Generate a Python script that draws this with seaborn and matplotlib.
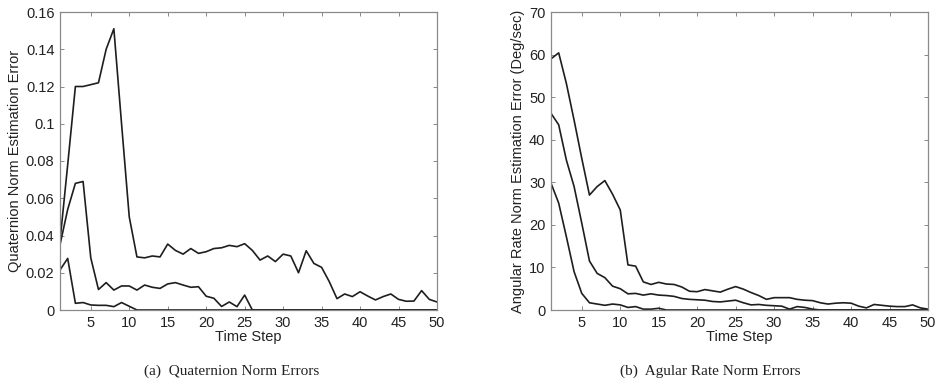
import numpy as np
import pandas as pd
import matplotlib
matplotlib.use("Agg")
import matplotlib.pyplot as plt
from matplotlib.ticker import FormatStrFormatter
import seaborn as sns

steps = list(range(1, 51))

# Quaternion norm estimation errors (panel a)
quat_high = [0.037, 0.078, 0.120, 0.120, 0.121, 0.122, 0.140, 0.151, 0.100, 0.050,
             0.0285, 0.028, 0.029, 0.0285, 0.0354, 0.032, 0.030, 0.033, 0.0304, 0.0313,
             0.033, 0.0334, 0.0347, 0.034, 0.0356, 0.032, 0.0268, 0.029, 0.026, 0.030,
             0.029, 0.020, 0.0318, 0.025, 0.0229, 0.0152, 0.0061, 0.0086, 0.0072, 0.0098,
             0.0075, 0.0054, 0.0072, 0.0086, 0.0057, 0.0047, 0.0048, 0.0104, 0.0057, 0.0043]
quat_mid = [0.035, 0.054, 0.068, 0.069, 0.028, 0.011, 0.0147, 0.0107, 0.0129, 0.0129,
            0.0107, 0.0134, 0.0122, 0.0116, 0.014, 0.0147, 0.0134, 0.0122, 0.0125, 0.0074,
            0.0063, 0.0019, 0.0043, 0.0018, 0.008, 0.0, 0.0, 0.0, 0.0, 0.0,
            0.0, 0.0, 0.0, 0.0, 0.0, 0.0, 0.0, 0.0, 0.0, 0.0,
            0.0, 0.0, 0.0, 0.0, 0.0, 0.0, 0.0, 0.0, 0.0, 0.0]
quat_low = [0.0215, 0.0277, 0.0036, 0.004, 0.0027, 0.0025, 0.0025, 0.0018, 0.004, 0.002,
            0.0, 0.0, 0.0, 0.0, 0.0, 0.0, 0.0, 0.0, 0.0, 0.0,
            0.0, 0.0, 0.0, 0.0, 0.0, 0.0, 0.0, 0.0, 0.0, 0.0,
            0.0, 0.0, 0.0, 0.0, 0.0, 0.0, 0.0, 0.0, 0.0, 0.0,
            0.0, 0.0, 0.0, 0.0, 0.0, 0.0, 0.0, 0.0, 0.0, 0.0]

# Angular rate norm estimation errors, deg/sec (panel b)
rate_high = [59.0, 60.4, 53.2, 44.6, 35.6, 27.0, 29.0, 30.4, 27.2, 23.5,
             10.6, 10.3, 6.6, 6.0, 6.5, 6.1, 6.0, 5.4, 4.4, 4.3,
             4.8, 4.5, 4.2, 4.9, 5.5, 4.9, 4.1, 3.4, 2.5, 2.9,
             2.9, 2.9, 2.5, 2.3, 2.2, 1.7, 1.4, 1.6, 1.7, 1.6,
             0.9, 0.5, 1.3, 1.1, 0.9, 0.8, 0.8, 1.2, 0.5, 0.2]
rate_mid = [46.2, 43.5, 35.2, 29.0, 20.4, 11.5, 8.6, 7.6, 5.6, 5.0,
            3.8, 3.9, 3.5, 3.8, 3.5, 3.4, 3.2, 2.7, 2.5, 2.4,
            2.3, 2.0, 1.9, 2.1, 2.3, 1.7, 1.2, 1.3, 1.1, 1.0,
            0.9, 0.2, 0.8, 0.6, 0.2, 0.0, 0.0, 0.0, 0.0, 0.0,
            0.0, 0.0, 0.0, 0.0, 0.0, 0.0, 0.0, 0.0, 0.0, 0.0]
rate_low = [29.8, 25.1, 17.2, 9.0, 3.9, 1.7, 1.4, 1.1, 1.4, 1.2,
            0.6, 0.8, 0.2, 0.2, 0.4, 0.0, 0.0, 0.0, 0.0, 0.0,
            0.0, 0.0, 0.0, 0.0, 0.0, 0.0, 0.0, 0.0, 0.0, 0.0,
            0.0, 0.0, 0.0, 0.0, 0.0, 0.0, 0.0, 0.0, 0.0, 0.0,
            0.0, 0.0, 0.0, 0.0, 0.0, 0.0, 0.0, 0.0, 0.0, 0.0]

x_ticks = [5, 10, 15, 20, 25, 30, 35, 40, 45, 50]
quat_ticks = [0, 0.02, 0.04, 0.06, 0.08, 0.1, 0.12, 0.14, 0.16]
rate_ticks = [0, 10, 20, 30, 40, 50, 60, 70]

sns.set_style("ticks")
plt.rcParams['font.family'] = ['Liberation Sans', 'DejaVu Sans']

fig = plt.figure(figsize=(9.38, 3.87), dpi=100)
axL = fig.add_axes([60/938, 77/387, 377/938, 298/387])
axR = fig.add_axes([551/938, 77/387, 377/938, 298/387])

line_kw = dict(color='#1e1e1e', linewidth=1.2)

def build(series_list):
    frames = []
    for i, s in enumerate(series_list):
        frames.append(pd.DataFrame({'step': steps, 'value': s, 'run': i}))
    return pd.concat(frames, ignore_index=True)

dfL = build([quat_high, quat_mid, quat_low])
dfR = build([rate_high, rate_mid, rate_low])

for ax, df in ((axL, dfL), (axR, dfR)):
    for run, g in df.groupby('run'):
        sns.lineplot(data=g, x='step', y='value', ax=ax, **line_kw)

for ax in (axL, axR):
    ax.set_xlim(1, 50)
    ax.set_xticks(x_ticks)
    ax.tick_params(direction='in', top=True, right=True, length=3,
                   width=0.7, colors='#888888', labelcolor='#222222', labelsize=10.5, pad=4)
    for sp in ax.spines.values():
        sp.set_color('#8a8a8a')
        sp.set_linewidth(0.9)
        sp.set_visible(True)
    ax.set_xlabel('Time Step', fontsize=10.5, color='#222222', labelpad=0)

axL.set_ylim(0, 0.16)
axL.set_yticks(quat_ticks)
axL.yaxis.set_major_formatter(FormatStrFormatter('%g'))
axL.set_ylabel('Quaternion Norm Estimation Error', fontsize=10.5, color='#222222', labelpad=3)

axR.set_ylim(0, 70)
axR.set_yticks(rate_ticks)
axR.yaxis.set_major_formatter(FormatStrFormatter('%g'))
axR.set_ylabel('Angular Rate Norm Estimation Error (Deg/sec)', fontsize=10.5, color='#222222', labelpad=3)

fig.text(232/938, 1 - 371/387, '(a)  Quaternion Norm Errors', ha='center', va='center',
         fontsize=11, family=['Liberation Serif', 'DejaVu Serif'], color='#222222')
fig.text(710/938, 1 - 371/387, '(b)  Agular Rate Norm Errors', ha='center', va='center',
         fontsize=11, family=['Liberation Serif', 'DejaVu Serif'], color='#222222')

fig.savefig('out.png', dpi=100)
